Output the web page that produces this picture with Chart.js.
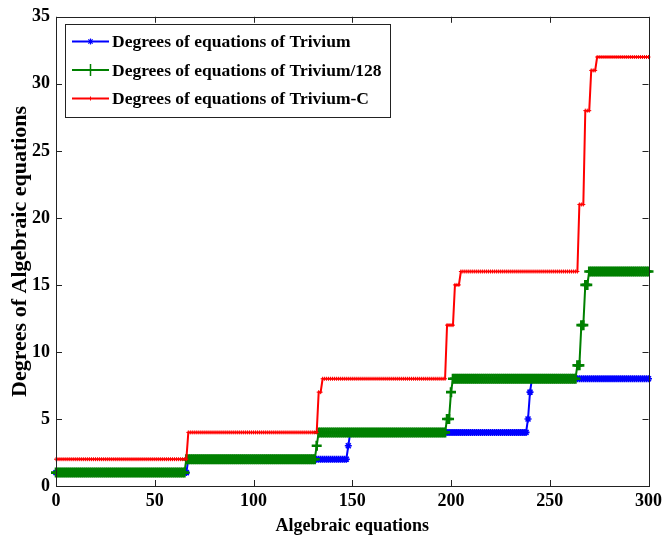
<!DOCTYPE html>
<html>
<head>
<meta charset="utf-8">
<script src="https://cdn.jsdelivr.net/npm/chart.js@4.4.1/dist/chart.umd.min.js"></script>
<style>
  body { margin: 0; background: #fff; }
  canvas { display: block; }
</style>
</head>
<body>
<canvas id="degreeChart" width="667" height="539"></canvas>
<script>
// Equation index where each degree level begins, and the degree from there on
const triviumStart = [0, 67, 148, 149, 239, 240, 241];
const triviumDegree = [1, 2, 3, 4, 5, 7, 8];
const trivium128Start = [0, 66, 132, 133, 198, 200, 201, 264, 266, 268, 270];
const trivium128Degree = [1, 2, 3, 4, 5, 7, 8, 9, 12, 15, 16];
const triviumCStart = [0, 67, 133, 135, 198, 202, 205, 265, 268, 271, 274];
const triviumCDegree = [2, 4, 7, 8, 12, 15, 16, 21, 28, 31, 32];

const lastEquation = 300;
const xTicks = [0, 50, 100, 150, 200, 250, 300];
const yTicks = [0, 5, 10, 15, 20, 25, 30, 35];

const seriesNames = [
    "Degrees of equations of Trivium",
    "Degrees of equations of Trivium/128",
    "Degrees of equations of Trivium-C",
];
const seriesColors = ["#0000ff", "#008000", "#ff0000"];

const FONT = "'Liberation Serif', 'Times New Roman', serif";

// one point per equation, holding the degree of the current level
function expandSteps(starts, degrees) {
    const points = [];
    let k = 0;
    for (let x = 0; x <= lastEquation; x++) {
        while (k + 1 < starts.length && x >= starts[k + 1]) k++;
        points.push({ x: x, y: degrees[k] });
    }
    return points;
}

// marker shapes in the plot, and the thinner ones shown in the legend
const markers = [
    { style: "star", radius: 3.5, width: 1.6 },
    { style: "cross", radius: 5, width: 2.6 },
    { style: "cross", radius: 2, width: 1 },
];
const legendMarkers = [
    { style: "star", radius: 3, width: 1.2 },
    { style: "cross", radius: 6, width: 1.5 },
    { style: "cross", radius: 2, width: 1 },
];

function drawMarker(ctx, m, x, y, color) {
    const r = m.radius;
    ctx.save();
    ctx.strokeStyle = color;
    ctx.lineWidth = m.width;
    ctx.beginPath();
    ctx.moveTo(x - r, y); ctx.lineTo(x + r, y);
    ctx.moveTo(x, y - r); ctx.lineTo(x, y + r);
    if (m.style === "star") {
        const d = r * Math.SQRT1_2;
        ctx.moveTo(x - d, y - d); ctx.lineTo(x + d, y + d);
        ctx.moveTo(x - d, y + d); ctx.lineTo(x + d, y - d);
    }
    ctx.stroke();
    ctx.restore();
}

// box round the plot with inward ticks on all four sides, then the legend
const framePlugin = {
    id: "frame",
    afterDatasetsDraw(chart) {
        const { ctx, chartArea: a, scales } = chart;
        const t = 6;
        ctx.save();
        ctx.strokeStyle = "#222";
        ctx.lineWidth = 1;
        ctx.beginPath();
        xTicks.forEach((v) => {
            const px = Math.round(scales.x.getPixelForValue(v)) + 0.5;
            ctx.moveTo(px, a.bottom); ctx.lineTo(px, a.bottom - t);
            ctx.moveTo(px, a.top); ctx.lineTo(px, a.top + t);
        });
        yTicks.forEach((v) => {
            const py = Math.round(scales.y.getPixelForValue(v)) + 0.5;
            ctx.moveTo(a.left, py); ctx.lineTo(a.left + t, py);
            ctx.moveTo(a.right, py); ctx.lineTo(a.right - t, py);
        });
        ctx.stroke();
        ctx.strokeRect(Math.round(a.left) + 0.5, Math.round(a.top) + 0.5,
            Math.round(a.right - a.left), Math.round(a.bottom - a.top));
        ctx.restore();
    },
    afterDraw(chart) {
        const ctx = chart.ctx;
        const box = { x: 65.5, y: 24.5, w: 325, h: 93 };
        ctx.save();
        ctx.fillStyle = "#fff";
        ctx.fillRect(box.x, box.y, box.w, box.h);
        ctx.strokeStyle = "#222";
        ctx.lineWidth = 1;
        ctx.strokeRect(box.x, box.y, box.w, box.h);
        ctx.font = "bold 17.5px " + FONT;
        ctx.textBaseline = "middle";
        seriesNames.forEach((name, i) => {
            const y = 41.5 + i * 28.5;
            ctx.strokeStyle = seriesColors[i];
            ctx.lineWidth = 2;
            ctx.beginPath();
            ctx.moveTo(72, y); ctx.lineTo(109, y);
            ctx.stroke();
            drawMarker(ctx, legendMarkers[i], 90.5, y, seriesColors[i]);
            ctx.fillStyle = "#000";
            ctx.fillText(name, 112, y + 1);
        });
        ctx.restore();
    },
};

const datasets = [
    { starts: triviumStart, degrees: triviumDegree, order: 3 },
    { starts: trivium128Start, degrees: trivium128Degree, order: 2 },
    { starts: triviumCStart, degrees: triviumCDegree, order: 1 },
].map((s, i) => ({
    label: seriesNames[i],
    data: expandSteps(s.starts, s.degrees),
    order: s.order,
    borderColor: seriesColors[i],
    backgroundColor: seriesColors[i],
    borderWidth: 2,
    pointStyle: markers[i].style,
    pointRadius: markers[i].radius,
    pointBorderWidth: markers[i].width,
    pointBorderColor: seriesColors[i],
    pointHoverRadius: markers[i].radius,
    tension: 0,
    clip: false,
}));

const tickFont = { family: FONT, size: 18, weight: "bold" };

new Chart(document.getElementById("degreeChart"), {
    type: "line",
    data: { datasets: datasets },
    options: {
        responsive: false,
        devicePixelRatio: 1,
        animation: false,
        events: [],
        layout: { padding: { top: 15, right: 15, left: 0, bottom: 0 } },
        plugins: { legend: { display: false }, tooltip: { enabled: false } },
        scales: {
            x: {
                type: "linear",
                min: 0,
                max: lastEquation,
                afterBuildTicks: (s) => { s.ticks = xTicks.map((v) => ({ value: v })); },
                afterFit: (s) => { s.height = 53; },
                grid: { display: false, drawTicks: false },
                border: { display: false },
                ticks: { font: tickFont, color: "#000", padding: 5, maxRotation: 0 },
                title: {
                    display: true,
                    text: "Algebraic equations",
                    font: tickFont,
                    color: "#000",
                    padding: { top: 0, bottom: 2 },
                },
            },
            y: {
                type: "linear",
                min: 0,
                max: 35,
                afterBuildTicks: (s) => { s.ticks = yTicks.map((v) => ({ value: v })); },
                afterFit: (s) => { s.width = 56; },
                grid: { display: false, drawTicks: false },
                border: { display: false },
                ticks: { font: tickFont, color: "#000", padding: 6 },
                title: {
                    display: true,
                    text: "Degrees of Algebraic equations",
                    font: { family: FONT, size: 22, weight: "bold" },
                    color: "#000",
                    padding: { top: 7, bottom: 0 },
                },
            },
        },
    },
    plugins: [framePlugin],
});
</script>
</body>
</html>
